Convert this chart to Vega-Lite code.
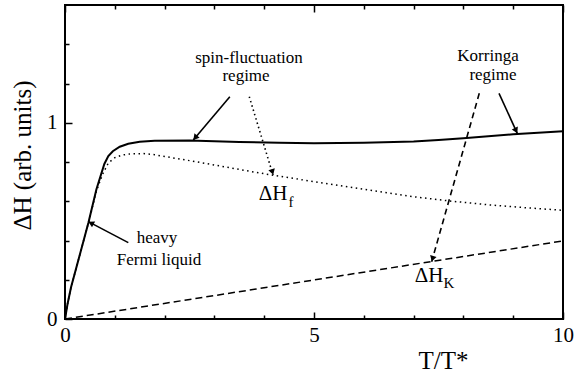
{
  "$schema": "https://vega.github.io/schema/vega-lite/v6.json",
  "width": 498,
  "height": 314,
  "autosize": {"type": "none"},
  "padding": {"left": 65, "top": 5, "right": 11, "bottom": 54},
  "background": "white",
  "config": {
    "view": {"stroke": "black", "strokeWidth": 2},
    "font": "Liberation Serif",
    "text": {"font": "Liberation Serif"},
    "axis": {
      "grid": false,
      "domain": false,
      "tickColor": "black",
      "tickWidth": 1.5,
      "labelColor": "black",
      "labelFont": "Liberation Serif",
      "labelFontSize": 21,
      "titleFont": "Liberation Serif",
      "titleFontSize": 25,
      "titleFontWeight": "normal",
      "titleColor": "black",
      "format": "d"
    }
  },
  "datasets": {
    "curves": [
      {"series": "H", "x": 0, "y": 0},
      {"series": "H", "x": 0.05, "y": 0.075},
      {"series": "H", "x": 0.12, "y": 0.16},
      {"series": "H", "x": 0.3, "y": 0.33},
      {"series": "H", "x": 0.47, "y": 0.49},
      {"series": "H", "x": 0.63, "y": 0.66},
      {"series": "H", "x": 0.79, "y": 0.79},
      {"series": "H", "x": 0.87, "y": 0.83},
      {"series": "H", "x": 0.96, "y": 0.855},
      {"series": "H", "x": 1.1, "y": 0.878},
      {"series": "H", "x": 1.27, "y": 0.893},
      {"series": "H", "x": 1.5, "y": 0.903},
      {"series": "H", "x": 1.8, "y": 0.908},
      {"series": "H", "x": 2.5, "y": 0.91},
      {"series": "H", "x": 3.5, "y": 0.902},
      {"series": "H", "x": 4.3, "y": 0.898},
      {"series": "H", "x": 5, "y": 0.896},
      {"series": "H", "x": 6, "y": 0.898},
      {"series": "H", "x": 7, "y": 0.905},
      {"series": "H", "x": 7.5, "y": 0.912},
      {"series": "H", "x": 8, "y": 0.921},
      {"series": "H", "x": 9, "y": 0.941},
      {"series": "H", "x": 10, "y": 0.957},
      {"series": "Hf", "x": 0, "y": 0},
      {"series": "Hf", "x": 0.05, "y": 0.075},
      {"series": "Hf", "x": 0.12, "y": 0.16},
      {"series": "Hf", "x": 0.3, "y": 0.33},
      {"series": "Hf", "x": 0.47, "y": 0.49},
      {"series": "Hf", "x": 0.63, "y": 0.65},
      {"series": "Hf", "x": 0.75, "y": 0.735},
      {"series": "Hf", "x": 0.87, "y": 0.795},
      {"series": "Hf", "x": 1.0, "y": 0.822},
      {"series": "Hf", "x": 1.14, "y": 0.835},
      {"series": "Hf", "x": 1.3, "y": 0.841},
      {"series": "Hf", "x": 1.57, "y": 0.843},
      {"series": "Hf", "x": 1.8, "y": 0.837},
      {"series": "Hf", "x": 2.0, "y": 0.828},
      {"series": "Hf", "x": 2.5, "y": 0.807},
      {"series": "Hf", "x": 3.0, "y": 0.785},
      {"series": "Hf", "x": 3.5, "y": 0.762},
      {"series": "Hf", "x": 4.12, "y": 0.735},
      {"series": "Hf", "x": 5, "y": 0.7},
      {"series": "Hf", "x": 5.9, "y": 0.665},
      {"series": "Hf", "x": 6.33, "y": 0.648},
      {"series": "Hf", "x": 7.0, "y": 0.623},
      {"series": "Hf", "x": 7.7, "y": 0.602},
      {"series": "Hf", "x": 8.5, "y": 0.582},
      {"series": "Hf", "x": 9.3, "y": 0.566},
      {"series": "Hf", "x": 10, "y": 0.554},
      {"series": "HK", "x": 0, "y": 0},
      {"series": "HK", "x": 10, "y": 0.398}
    ],
    "arrows": [
      {"name": "spin", "x": 3.31, "y": 1.133, "x2": 2.576, "y2": 0.912, "hx": 2.614, "hy": 0.9236},
      {"name": "spinf", "x": 3.70, "y": 1.133, "x2": 4.177, "y2": 0.734, "hx": 4.165, "hy": 0.749},
      {"name": "korr", "x": 8.715, "y": 1.150, "x2": 9.082, "y2": 0.946, "hx": 9.057, "hy": 0.960},
      {"name": "korrK", "x": 8.319, "y": 1.150, "x2": 7.363, "y2": 0.292, "hx": 7.380, "hy": 0.307},
      {"name": "fermi", "x": 1.271, "y": 0.389, "x2": 0.468, "y2": 0.496, "hx": 0.522, "hy": 0.489}
    ],
    "labels": [
      {"kind": "note", "text": "spin-fluctuation", "x": 3.695, "y": 1.33},
      {"kind": "note", "text": "regime", "x": 3.635, "y": 1.238},
      {"kind": "note", "text": "Korringa", "x": 8.494, "y": 1.34},
      {"kind": "note", "text": "regime", "x": 8.594, "y": 1.243},
      {"kind": "note", "text": "heavy", "x": 1.847, "y": 0.413},
      {"kind": "note", "text": "Fermi liquid", "x": 1.888, "y": 0.301},
      {"kind": "sym", "text": "ΔH", "x": 4.177, "y": 0.639},
      {"kind": "sym", "text": "ΔH", "x": 7.309, "y": 0.2166},
      {"kind": "sub", "text": "f", "x": 4.49, "y": 0.596},
      {"kind": "sub", "text": "K", "x": 7.6, "y": 0.183}
    ]
  },
  "resolve": {"axis": {"x": "independent", "y": "independent"}},
  "layer": [
    {
      "data": {"name": "curves"},
      "transform": [{"filter": "datum.series === 'H'"}],
      "mark": {"type": "line", "color": "black", "strokeWidth": 2},
      "encoding": {
        "x": {
          "field": "x", "type": "quantitative",
          "scale": {"domain": [0, 10], "nice": false, "zero": false},
          "axis": {
            "orient": "bottom",
            "title": "T/T*",
            "values": [0, 1, 2, 3, 4, 5, 6, 7, 8, 9, 10],
            "tickSize": {"condition": {"test": "datum.value % 5 === 0", "value": -7}, "value": -4},
            "labelExpr": "datum.value % 5 === 0 ? datum.label : ''",
            "labelPadding": 12,
            "labelFlush": false,
            "labelOverlap": false,
            "titleX": 378,
            "titleY": 49,
            "titleAlign": "center",
            "titleBaseline": "alphabetic"
          }
        },
        "y": {
          "field": "y", "type": "quantitative",
          "scale": {"domain": [0, 1.6], "nice": false, "zero": false},
          "axis": {
            "orient": "left",
            "title": "ΔH (arb. units)",
            "values": [0, 0.2, 0.4, 0.6, 0.8, 1, 1.2, 1.4],
            "tickSize": {"condition": {"test": "datum.value === 0 || datum.value === 1", "value": -7}, "value": -4},
            "labelExpr": "datum.value === 0 || datum.value === 1 ? datum.label : ''",
            "labelPadding": 15,
            "labelFlush": false,
            "labelOverlap": false,
            "titleX": -43,
            "titleY": 150,
            "titleAlign": "center",
            "titleBaseline": "middle",
            "titleAngle": -90
          }
        }
      }
    },
    {
      "data": {"name": "curves"},
      "transform": [{"filter": "datum.series === 'Hf'"}],
      "mark": {"type": "line", "color": "black", "strokeWidth": 1.5, "strokeDash": [1.5, 3.5]},
      "encoding": {
        "x": {
          "field": "x", "type": "quantitative",
          "axis": {
            "orient": "top",
            "title": null,
            "values": [0, 1, 2, 3, 4, 5, 6, 7, 8, 9, 10],
            "tickSize": {"condition": {"test": "datum.value % 5 === 0", "value": -7}, "value": -4},
            "labels": false
          }
        },
        "y": {"field": "y", "type": "quantitative", "axis": null}
      }
    },
    {
      "data": {"name": "curves"},
      "transform": [{"filter": "datum.series === 'HK'"}],
      "mark": {"type": "line", "color": "black", "strokeWidth": 1.5, "strokeDash": [7, 4]},
      "encoding": {
        "x": {"field": "x", "type": "quantitative", "axis": null},
        "y": {"field": "y", "type": "quantitative", "axis": null}
      }
    },
    {
      "data": {"name": "arrows"},
      "transform": [{"filter": "datum.name === 'spin' || datum.name === 'korr' || datum.name === 'fermi'"}],
      "mark": {"type": "rule", "color": "black", "strokeWidth": 1.6},
      "encoding": {
        "x": {"field": "x", "type": "quantitative", "axis": null},
        "y": {"field": "y", "type": "quantitative", "axis": null},
        "x2": {"field": "x2"},
        "y2": {"field": "y2"}
      }
    },
    {
      "data": {"name": "arrows"},
      "transform": [{"filter": "datum.name === 'spinf'"}],
      "mark": {"type": "rule", "color": "black", "strokeWidth": 1.6, "strokeDash": [1.5, 3]},
      "encoding": {
        "x": {"field": "x", "type": "quantitative", "axis": null},
        "y": {"field": "y", "type": "quantitative", "axis": null},
        "x2": {"field": "x2"},
        "y2": {"field": "y2"}
      }
    },
    {
      "data": {"name": "arrows"},
      "transform": [{"filter": "datum.name === 'korrK'"}],
      "mark": {"type": "rule", "color": "black", "strokeWidth": 1.6, "strokeDash": [6, 4]},
      "encoding": {
        "x": {"field": "x", "type": "quantitative", "axis": null},
        "y": {"field": "y", "type": "quantitative", "axis": null},
        "x2": {"field": "x2"},
        "y2": {"field": "y2"}
      }
    },
    {
      "data": {"name": "arrows"},
      "transform": [{"filter": "datum.name === 'spin'"}],
      "mark": {"type": "point", "shape": "triangle-up", "filled": true, "color": "black", "size": 45, "opacity": 1, "angle": 220},
      "encoding": {
        "x": {"field": "hx", "type": "quantitative", "axis": null},
        "y": {"field": "hy", "type": "quantitative", "axis": null}
      }
    },
    {
      "data": {"name": "arrows"},
      "transform": [{"filter": "datum.name === 'spinf'"}],
      "mark": {"type": "point", "shape": "triangle-up", "filled": true, "color": "black", "size": 45, "opacity": 1, "angle": 163},
      "encoding": {
        "x": {"field": "hx", "type": "quantitative", "axis": null},
        "y": {"field": "hy", "type": "quantitative", "axis": null}
      }
    },
    {
      "data": {"name": "arrows"},
      "transform": [{"filter": "datum.name === 'korr'"}],
      "mark": {"type": "point", "shape": "triangle-up", "filled": true, "color": "black", "size": 45, "opacity": 1, "angle": 155},
      "encoding": {
        "x": {"field": "hx", "type": "quantitative", "axis": null},
        "y": {"field": "hy", "type": "quantitative", "axis": null}
      }
    },
    {
      "data": {"name": "arrows"},
      "transform": [{"filter": "datum.name === 'korrK'"}],
      "mark": {"type": "point", "shape": "triangle-up", "filled": true, "color": "black", "size": 45, "opacity": 1, "angle": 196},
      "encoding": {
        "x": {"field": "hx", "type": "quantitative", "axis": null},
        "y": {"field": "hy", "type": "quantitative", "axis": null}
      }
    },
    {
      "data": {"name": "arrows"},
      "transform": [{"filter": "datum.name === 'fermi'"}],
      "mark": {"type": "point", "shape": "triangle-up", "filled": true, "color": "black", "size": 45, "opacity": 1, "angle": 298},
      "encoding": {
        "x": {"field": "hx", "type": "quantitative", "axis": null},
        "y": {"field": "hy", "type": "quantitative", "axis": null}
      }
    },
    {
      "data": {"name": "labels"},
      "transform": [{"filter": "datum.kind === 'note'"}],
      "mark": {"type": "text", "font": "Liberation Serif", "fontSize": 17, "color": "black", "align": "center", "baseline": "middle"},
      "encoding": {
        "x": {"field": "x", "type": "quantitative", "axis": null},
        "y": {"field": "y", "type": "quantitative", "axis": null},
        "text": {"field": "text"}
      }
    },
    {
      "data": {"name": "labels"},
      "transform": [{"filter": "datum.kind === 'sym'"}],
      "mark": {"type": "text", "font": "Liberation Serif", "fontSize": 21, "color": "black", "align": "center", "baseline": "middle"},
      "encoding": {
        "x": {"field": "x", "type": "quantitative", "axis": null},
        "y": {"field": "y", "type": "quantitative", "axis": null},
        "text": {"field": "text"}
      }
    },
    {
      "data": {"name": "labels"},
      "transform": [{"filter": "datum.kind === 'sub'"}],
      "mark": {"type": "text", "font": "Liberation Serif", "fontSize": 15, "color": "black", "align": "left", "baseline": "middle"},
      "encoding": {
        "x": {"field": "x", "type": "quantitative", "axis": null},
        "y": {"field": "y", "type": "quantitative", "axis": null},
        "text": {"field": "text"}
      }
    }
  ]
}
